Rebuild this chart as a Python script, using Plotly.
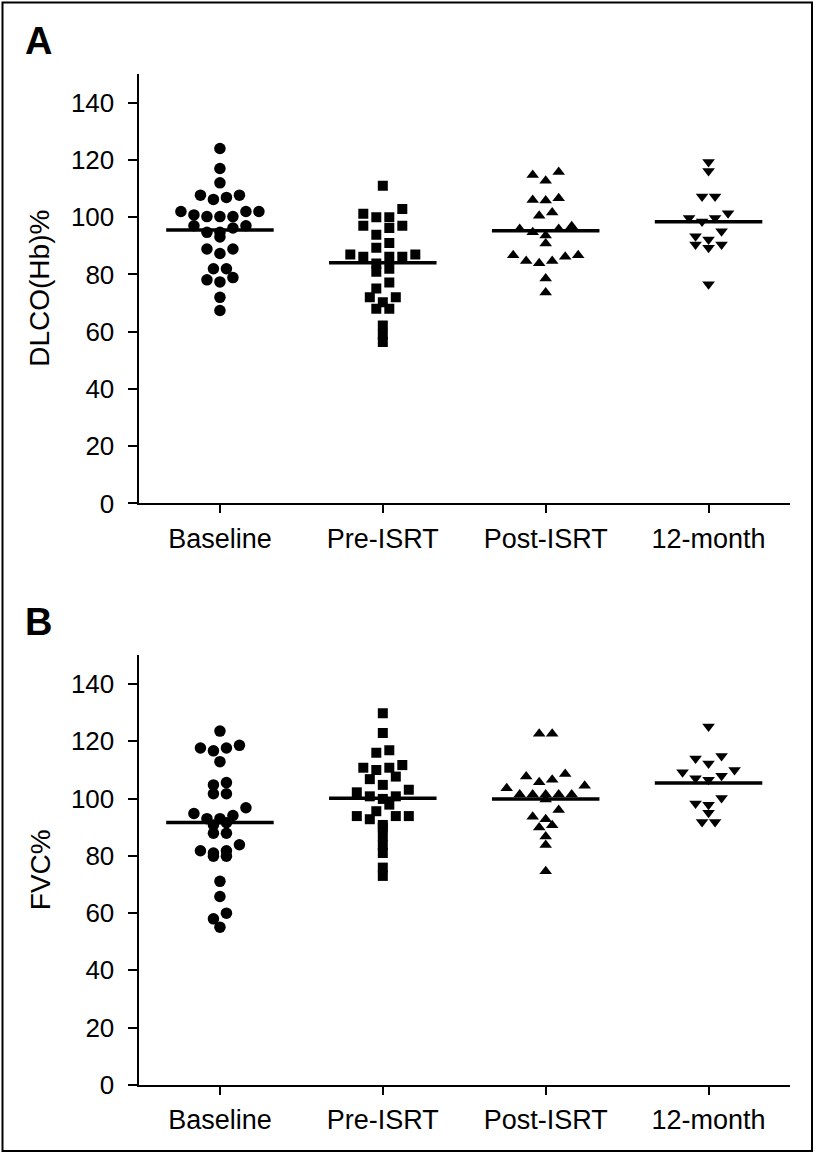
import numpy as np
import plotly.graph_objects as go

# ---------------- data ----------------
categories = ["Baseline", "Pre-ISRT", "Post-ISRT", "12-month"]
y_ticks = [0, 20, 40, 60, 80, 100, 120, 140]

dlco_baseline = [124, 117, 112, 107.7, 106.9, 106.2, 107.7,
                 102, 102, 100.2, 100.2, 100.2, 100.8, 102,
                 97, 96.2, 94.7, 93.1, 94.7, 97,
                 88.9, 87.3, 88.9, 82, 82, 78.9, 77.4, 78.1, 72, 67.4]
dlco_pre = [111, 102.9, 101.2, 100, 100, 97, 96.2, 97, 93.9, 91,
            89.3, 87, 86.2, 86.2, 86.2, 87, 83.8, 82, 80.9, 77.2, 75.1,
            72, 70.3, 68, 68, 72, 62.2, 59, 56.4]
dlco_post = [114.7, 112.7, 115.8, 106.6, 106, 105.8, 101.6, 100.5,
             96.8, 95.9, 94.7, 95.9, 93.6, 90.8,
             86.7, 84.7, 83.9, 84.7, 86.2, 86.7, 78.6, 73.7]
dlco_12m = [119.3, 116.1, 107.2, 107.2, 101.4, 99.7, 98.5, 99.7, 95.1,
            92.2, 90.5, 89.3, 90.5, 93.3, 76.6]

fvc_baseline = [123.6, 117.7, 117.7, 116.7, 118.6, 112.9,
                105.6, 101.7, 101.7, 104.8,
                96.8, 94.1, 93, 93, 94.8, 91.6, 90.8, 87.9, 87.9,
                81.8, 81, 79.9, 79.9, 81.8, 83.9, 71.1, 65.8, 60, 58, 55.1]
fvc_pre = [129.8, 122.9, 116.9, 116, 111.7, 110.8, 110, 110.8, 107.7, 106.8,
           104.8, 103.1, 102.2, 100.8, 99.9, 100.8, 97.9,
           93.9, 93.9, 92.8, 93.9, 95.6, 90.8, 89.9, 87, 83.8, 81, 75.9, 73]
fvc_post = [122.7, 122.7, 108.6, 107.7, 106.6, 105.7, 104.5, 103.6,
            101.4, 101.4, 101.4, 101.4, 101.4, 99.7,
            96, 93.7, 92.8, 90.7, 89.9, 86.8, 83.8, 74.6]
fvc_12m = [125.2, 114, 114.9, 112.3, 110, 108, 109.2, 106.6, 107.1,
           100.2, 98.3, 97.9, 95.1, 91.8, 91.8]

panels = [
    dict(label="A", title="DLCO(Hb)%", groups=[dlco_baseline, dlco_pre, dlco_post, dlco_12m]),
    dict(label="B", title="FVC%", groups=[fvc_baseline, fvc_pre, fvc_post, fvc_12m]),
]

# ---------------- layout geometry ----------------
W, H = 817, 1169
X_LEFT, X_RIGHT = 138.5, 790.0
PANEL_PX = [(75.0, 510.0), (664.0, 1099.0)]  # (top, bottom) in pixels
Y_MAX = 150
px_per_cat = (X_RIGHT - X_LEFT) / 4.0

symbols = ["circle", "square", "triangle-up", "triangle-down"]
sizes = [11.5, 10, 11, 11]


def swarm_offsets(values, step_px=13.0, span=3.8, gap=2.6):
    vals = np.asarray(values, dtype=float)
    order = np.argsort(-vals, kind="stable")
    rows, cur = [], []
    for idx in order:
        v = vals[idx]
        if cur and (vals[cur[0]] - v > span or vals[cur[-1]] - v > gap):
            rows.append(cur)
            cur = []
        cur.append(idx)
    if cur:
        rows.append(cur)
    offs = np.zeros(len(vals))
    for row in rows:
        n = len(row)
        slots = sorted([k - (n - 1) / 2 for k in range(n)], key=lambda s: (abs(s), s))
        row_sorted = sorted(row, key=lambda j: vals[j])
        for j, s in zip(row_sorted, slots):
            offs[j] = s * step_px / px_per_cat
    return offs


fig = go.Figure()
font_family = "Liberation Sans, Arial, Helvetica, sans-serif"

for p, panel in enumerate(panels):
    xa = "x" if p == 0 else "x2"
    ya = "y" if p == 0 else "y2"
    for i, vals in enumerate(panel["groups"]):
        offs = swarm_offsets(vals)
        fig.add_trace(go.Scatter(
            x=i + offs, y=vals, mode="markers", xaxis=xa, yaxis=ya,
            marker=dict(symbol=symbols[i], size=sizes[i], color="black", line=dict(width=0)),
            showlegend=False, hoverinfo="y"))
        m = float(np.mean(vals))
        fig.add_trace(go.Scatter(
            x=[i - 0.33, i + 0.33], y=[m, m], mode="lines", xaxis=xa, yaxis=ya,
            line=dict(color="black", width=3.5), showlegend=False, hoverinfo="skip"))

axis_common = dict(showline=True, linecolor="black", linewidth=2, ticks="outside",
                   tickcolor="black", tickwidth=2, showgrid=False, zeroline=False,
                   tickfont=dict(family=font_family, size=26, color="black"))

layout = dict(width=W, height=H, margin=dict(l=0, r=0, t=0, b=0),
              paper_bgcolor="white", plot_bgcolor="white",
              font=dict(family=font_family, color="black"))

annotations = []
for p, panel in enumerate(panels):
    top, bot = PANEL_PX[p]
    dom_y = [(H - bot) / H, (H - top) / H]
    xname = "xaxis" if p == 0 else "xaxis2"
    yname = "yaxis" if p == 0 else "yaxis2"
    layout[xname] = dict(axis_common, domain=[X_LEFT / W, X_RIGHT / W], range=[-0.5, 3.5],
                         tickvals=list(range(4)), ticktext=categories, ticklen=8,
                         ticklabelstandoff=2,
                         tickfont=dict(family=font_family, size=27, color="black"),
                         anchor="y" if p == 0 else "y2")
    layout[yname] = dict(axis_common, domain=dom_y, range=[0, Y_MAX], tickvals=y_ticks,
                         ticklen=9, ticklabelstandoff=8, anchor="x" if p == 0 else "x2")
    annotations.append(dict(text=panel["title"], xref="paper", yref="paper",
                            x=40 / W, y=(H - (top + bot) / 2) / H, textangle=-90,
                            showarrow=False, xanchor="center", yanchor="middle",
                            font=dict(family=font_family, size=28, color="black")))
    lab_y = 41.5 if p == 0 else 630
    annotations.append(dict(text="<b>%s</b>" % panel["label"], xref="paper", yref="paper",
                            x=38.5 / W, y=(H - lab_y) / H, showarrow=False,
                            xanchor="center", yanchor="middle",
                            font=dict(family=font_family, size=38, color="black")))

layout["annotations"] = annotations
layout["shapes"] = [dict(type="rect", xref="paper", yref="paper",
                         x0=2.5 / W, x1=812 / W, y0=(H - 1166) / H, y1=(H - 2.5) / H,
                         line=dict(color="black", width=2))]
fig.update_layout(**layout)

fig.write_html(
    "out.html",
    config={"displayModeBar": False},
    post_script=("document.body.style.margin='0';document.body.style.padding='0';"
                 "document.body.style.overflow='hidden';"
                 "document.documentElement.style.overflow='hidden';"),
)
